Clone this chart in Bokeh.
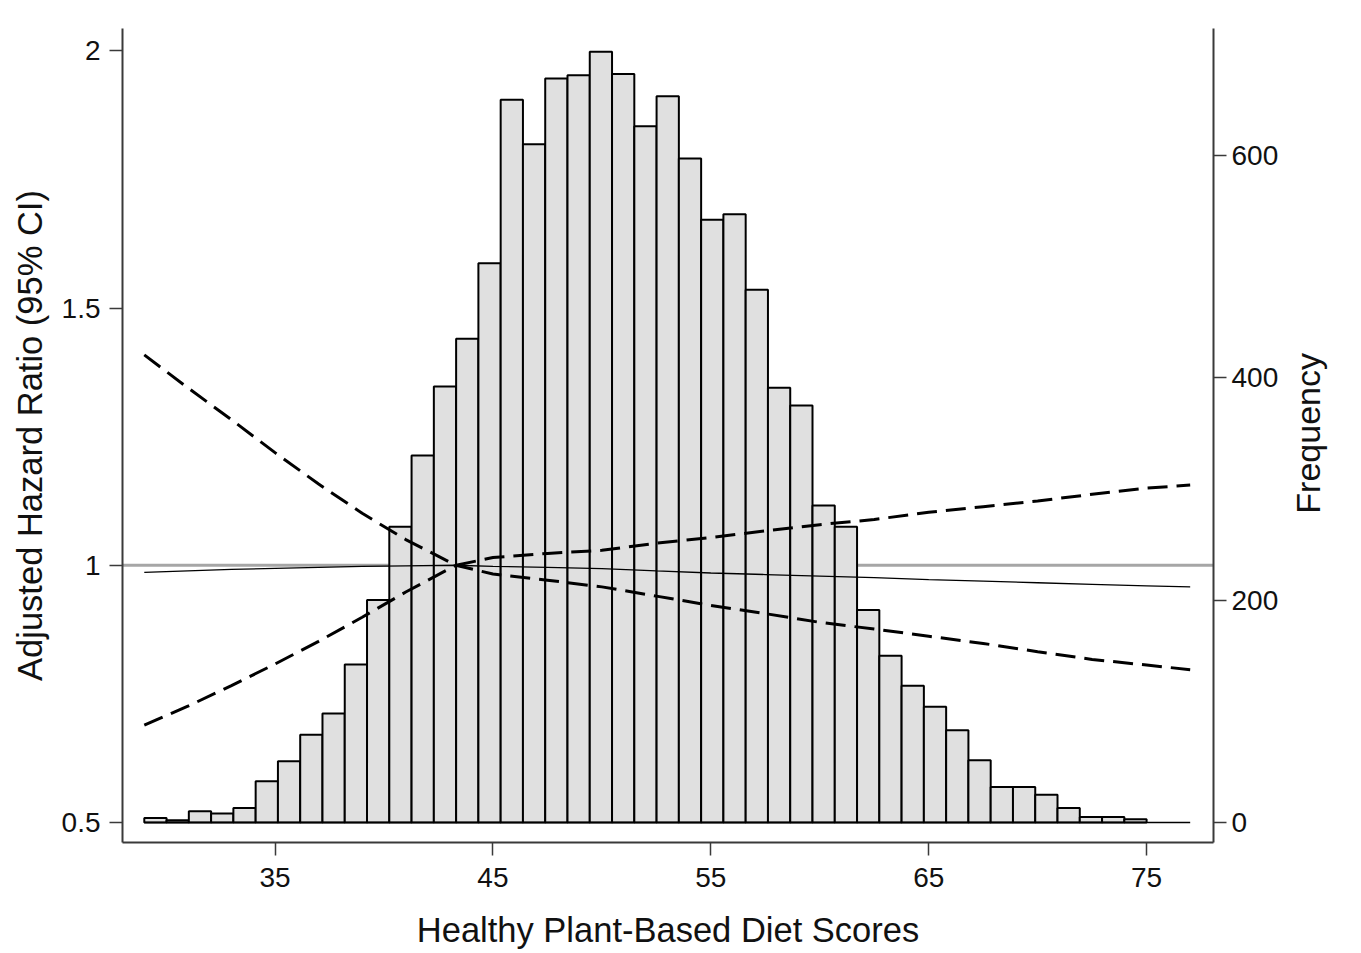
import math
import numpy as np
from bokeh.plotting import figure
from bokeh.layouts import row
from bokeh.models import Range1d, LinearAxis, Span, FixedTicker, CustomJSTickFormatter
from bokeh.core.properties import value
from bokeh.embed import file_html
from bokeh.resources import INLINE

# ---- data ----
bin_start = 29
bin_end = 75
frequency = [4, 2, 10, 8, 13, 37, 55, 79, 98, 142,
             200, 266, 330, 392, 435, 503, 650, 610, 669, 672,
             693, 673, 626, 653, 597, 542, 547, 479, 391, 375,
             285, 266, 191, 150, 123, 104, 83, 56, 32, 32,
             25, 13, 5, 5, 3]

score = [29, 31, 33, 35, 37, 39, 41, 43.3, 45, 47.5, 50, 52.5,
         55, 57.5, 60, 62.5, 65, 67.5, 70, 72.5, 75, 77]
hazard_ratio = [0.986, 0.989, 0.992, 0.994, 0.996, 0.998, 0.999, 1.0,
                0.998, 0.996, 0.9935, 0.989, 0.985, 0.982, 0.979, 0.976,
                0.972, 0.969, 0.966, 0.963, 0.960, 0.958]
ci_lower = [0.689, 0.726, 0.766, 0.808, 0.852, 0.899, 0.948, 1.0,
            0.983, 0.971, 0.958, 0.940, 0.922, 0.906, 0.889, 0.876,
            0.862, 0.848, 0.832, 0.817, 0.806, 0.797]
ci_upper = [1.409, 1.345, 1.283, 1.219, 1.158, 1.101, 1.050, 1.0,
            1.015, 1.023, 1.029, 1.043, 1.054, 1.067, 1.079, 1.089,
            1.103, 1.114, 1.125, 1.138, 1.150, 1.156]

x_ticks = [35, 45, 55, 65, 75]
hr_ticks = [0.5, 1, 1.5, 2]
freq_ticks = [0, 200, 400, 600]
reference_hr = 1

edges = np.linspace(bin_start, bin_end, len(frequency) + 1)

FONT = "Liberation Sans"
AXIS_COLOR = "#3a3a3a"
TEXT_COLOR = "#111111"

x_lo, x_hi = 28.0, 78.07
hr_lo, hr_hi = 0.461, 2.0436

p = figure(width=1290, height=953,
           x_range=Range1d(x_lo, x_hi), y_range=Range1d(hr_lo, hr_hi),
           output_backend="svg", toolbar_location=None,
           min_border_left=122, min_border_right=77,
           min_border_top=28, min_border_bottom=111)
p.extra_y_ranges = {"freq": Range1d(-18, 714)}
p.outline_line_color = None
p.xgrid.visible = False
p.ygrid.visible = False
p.background_fill_color = "white"
p.border_fill_color = "white"

p.add_layout(Span(location=reference_hr, dimension="width", line_color="#a6a6a6",
                  line_width=3, level="underlay"))

p.quad(left=edges[:-1], right=edges[1:], bottom=0, top=frequency,
       y_range_name="freq", fill_color="#e0e0e0", line_color="black", line_width=2)
p.line(x=[score[0], score[-1]], y=[0, 0], y_range_name="freq",
       line_color="black", line_width=1.5)
p.line(score, hazard_ratio, line_color="black", line_width=1.3)
p.line(score, ci_lower, line_color="black", line_width=3, line_dash="20 9")
p.line(score, ci_upper, line_color="black", line_width=3, line_dash="20 9")

right = LinearAxis(y_range_name="freq")
p.add_layout(right, "right")

fmt = CustomJSTickFormatter(code="return tick.toString();")

for ax in [p.xaxis[0], p.yaxis[0], right]:
    ax.axis_line_color = AXIS_COLOR
    ax.axis_line_width = 2
    ax.major_tick_line_color = AXIS_COLOR
    ax.major_tick_line_width = 1.5
    ax.major_tick_out = 13
    ax.major_tick_in = 0
    ax.minor_tick_out = 0
    ax.minor_tick_in = 0
    ax.major_label_text_font = FONT
    ax.major_label_text_font_size = "28px"
    ax.major_label_text_color = TEXT_COLOR
    ax.axis_label_text_font = FONT
    ax.axis_label_text_font_size = "34.5px"
    ax.axis_label_text_font_style = "normal"
    ax.axis_label_text_color = TEXT_COLOR
    ax.formatter = fmt

p.xaxis[0].ticker = FixedTicker(ticks=x_ticks)
p.yaxis[0].ticker = FixedTicker(ticks=hr_ticks)
right.ticker = FixedTicker(ticks=freq_ticks)

p.xaxis[0].axis_label = "Healthy Plant-Based Diet Scores"
p.yaxis[0].axis_label = "Adjusted Hazard Ratio (95% CI)"

p.xaxis[0].major_label_standoff = 12
p.yaxis[0].major_label_standoff = 9
right.major_label_standoff = 5
p.xaxis[0].axis_label_standoff = 21
p.yaxis[0].axis_label_standoff = 10

# right-hand axis title (reads bottom to top) in a narrow strip beside the plot
t = figure(width=71, height=953, x_range=Range1d(0, 71), y_range=Range1d(953, 0),
           output_backend="svg", toolbar_location=None, min_border=0,
           x_axis_type=None, y_axis_type=None)
t.outline_line_color = None
t.grid.visible = False
t.background_fill_color = "white"
t.border_fill_color = "white"
t.text(x=[17], y=[474], text=["Frequency"], angle=math.pi / 2,
       text_align="center", text_baseline="middle",
       text_font=value(FONT), text_font_size="34px", text_color=TEXT_COLOR)

open("out.html", "w").write(file_html(row(p, t), INLINE))
